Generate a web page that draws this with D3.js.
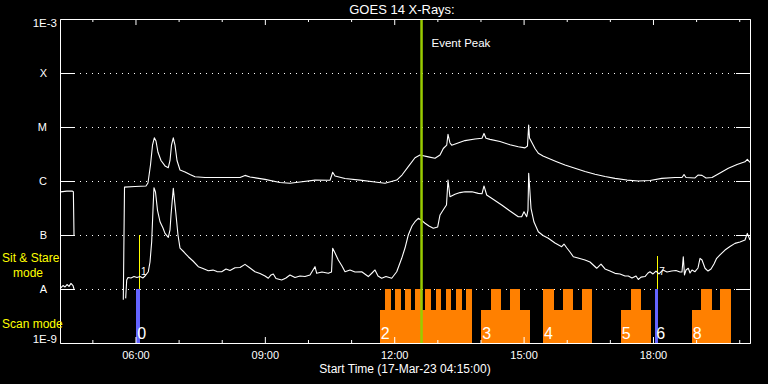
<!DOCTYPE html>
<html><head><meta charset="utf-8">
<script src="https://cdn.jsdelivr.net/npm/d3@7"></script>
<style>
html,body{margin:0;padding:0;background:#000;}
svg{display:block;}
text{font-family:"Liberation Sans",Arial,sans-serif;}
</style></head>
<body>
<svg id="c" width="768" height="384"></svg>
<script>
// ---------------- DATA ----------------
const title = "GOES 14 X-Rays:";
const startLabel = "Start Time (17-Mar-23 04:15:00)";
const timeDomain = [4.25, 20.25]; // hours of day, 04:15 .. 20:15
const hourTicks = d3.range(5, 21);
const labelHours = [6, 9, 12, 15, 18];
const classLevels = [1e-8, 1e-7, 1e-6, 1e-5, 1e-4];
const classLabels = ["A", "B", "C", "M", "X"];
const edgeLabels = ["1E-9", "1E-3"];

// long channel (1-8 A): [hour, flux]
const longChannel = [
 [4.26,6.3e-7],[4.41,6.5e-7],[4.53,6.5e-7],[4.56,6.3e-7],[4.575,1.0e-7],[5.0,null],
 [5.718,6.3e-9],[5.746,7.7e-7],[5.989,7.9e-7],[6.244,8.1e-7],[6.29,9.2e-7],[6.349,2.0e-6],
 [6.395,4.6e-6],[6.437,6.3e-6],[6.476,5.5e-6],[6.522,3.4e-6],[6.592,2.4e-6],[6.685,1.9e-6],
 [6.761,1.76e-6],[6.801,2.4e-6],[6.835,4.6e-6],[6.877,6.3e-6],[6.917,4.6e-6],[6.963,2.4e-6],
 [7.033,1.6e-6],[7.149,1.47e-6],[7.265,1.32e-6],[7.38,1.2e-6],[7.612,1.16e-6],[7.96,1.16e-6],
 [8.424,1.16e-6],[8.54,1.27e-6],[8.656,1.19e-6],[9.004,1.07e-6],[9.351,9.4e-7],[9.583,9.1e-7],
 [9.815,9.6e-7],[10.163,1.04e-6],[10.511,1.03e-6],[10.573,1.45e-6],[10.627,1.24e-6],[10.859,1.11e-6],
 [11.206,1.04e-6],[11.554,9.6e-7],[11.786,9.1e-7],[12.058,1.04e-6],[12.18,1.29e-6],[12.326,1.84e-6],
 [12.482,2.7e-6],[12.598,3.03e-6],[12.79,2.8e-6],[12.946,2.63e-6],[13.062,3.03e-6],[13.138,4.0e-6],
 [13.217,4.6e-6],[13.247,7.3e-6],[13.293,5.06e-6],[13.333,4.6e-6],[13.479,5.06e-6],[13.641,5.6e-6],
 [13.873,6.0e-6],[14.035,6.2e-6],[14.082,7.6e-6],[14.128,6.2e-6],[14.221,5.9e-6],[14.453,5.4e-6],
 [14.685,4.7e-6],[14.877,4.3e-6],[15.033,4.1e-6],[15.09,4.45e-6],[15.118,1.09e-5],[15.137,6.25e-6],
 [15.265,4.0e-6],[15.341,3.26e-6],[15.45,2.9e-6],[15.573,2.63e-6],[15.752,2.3e-6],[15.96,1.98e-6],
 [16.192,1.72e-6],[16.424,1.5e-6],[16.656,1.33e-6],[16.888,1.21e-6],[17.12,1.12e-6],[17.398,1.04e-6],
 [17.66,1.0e-6],[17.931,1.02e-6],[18.203,1.12e-6],[18.511,1.16e-6],[18.673,1.16e-6],[18.72,1.32e-6],
 [18.766,1.16e-6],[18.975,1.14e-6],[19.044,1.29e-6],[19.137,1.27e-6],[19.23,1.14e-6],[19.369,1.16e-6],
 [19.555,1.41e-6],[19.747,1.72e-6],[19.949,2.02e-6],[20.134,2.27e-6],[20.188,2.52e-6],[20.25,2.22e-6]
];

// short channel (0.5-4 A): [hour, flux]
const shortChannel = [
 [4.26,1.04e-8],[4.32,1.16e-8],[4.366,1.09e-8],[4.412,1.21e-8],[4.459,1.12e-8],[4.505,1.27e-8],
 [4.551,1.16e-8],[4.575,1.0e-8],[5.0,null],
 [5.773,6.7e-9],[5.797,1.47e-8],[5.827,1.63e-8],[5.896,1.6e-8],[5.966,1.7e-8],[6.035,1.63e-8],
 [6.105,1.7e-8],[6.175,1.6e-8],[6.221,1.74e-8],[6.298,2.09e-8],[6.337,3.16e-8],[6.376,7.5e-8],
 [6.406,2.9e-7],[6.429,7.5e-7],[6.464,6.25e-7],[6.51,2.9e-7],[6.569,1.76e-7],[6.638,1.35e-7],
 [6.685,1.07e-7],[6.761,9.06e-8],[6.801,1.24e-7],[6.824,2.35e-7],[6.877,7.3e-7],[6.933,2.7e-7],
 [6.986,1.0e-7],[7.033,5.7e-8],[7.125,4.84e-8],[7.225,3.96e-8],[7.334,3.3e-8],[7.457,2.59e-8],
 [7.566,2.4e-8],[7.689,2.18e-8],[7.798,2.24e-8],[7.89,2.1e-8],[7.999,2.09e-8],[8.099,2.35e-8],
 [8.192,2.2e-8],[8.308,2.48e-8],[8.424,2.5e-8],[8.54,2.86e-8],[8.656,2.45e-8],[8.772,2.09e-8],
 [8.888,1.94e-8],[9.004,1.74e-8],[9.08,1.58e-8],[9.143,1.82e-8],[9.196,1.9e-8],[9.259,1.57e-8],
 [9.391,1.47e-8],[9.49,1.6e-8],[9.583,1.82e-8],[9.699,1.63e-8],[9.815,1.74e-8],[9.931,1.7e-8],
 [10.047,1.82e-8],[10.163,2.59e-8],[10.203,1.95e-8],[10.325,2.07e-8],[10.471,1.95e-8],[10.546,2.07e-8],
 [10.573,5.7e-8],[10.627,4.64e-8],[10.703,3.44e-8],[10.789,2.67e-8],[10.859,2.09e-8],[10.975,2.25e-8],
 [11.091,2.07e-8],[11.246,2.09e-8],[11.399,1.7e-8],[11.485,1.98e-8],[11.554,2.25e-8],[11.624,1.74e-8],
 [11.709,1.58e-8],[11.809,1.7e-8],[11.942,1.58e-8],[12.058,2.09e-8],[12.174,3.7e-8],[12.25,5.74e-8],
 [12.326,1.0e-7],[12.412,1.47e-7],[12.482,1.76e-7],[12.558,2.04e-7],[12.621,1.9e-7],[12.714,1.65e-7],
 [12.806,1.47e-7],[12.906,1.33e-7],[13.008,1.41e-7],[13.062,2.35e-7],[13.161,3.12e-7],[13.212,3.6e-7],
 [13.247,1.04e-6],[13.293,5.12e-7],[13.409,5.67e-7],[13.525,6.1e-7],[13.641,6.34e-7],[13.803,6.3e-7],
 [13.95,5.9e-7],[14.035,5.8e-7],[14.082,8.1e-7],[14.144,5.5e-7],[14.267,4.74e-7],[14.492,3.6e-7],
 [14.685,2.78e-7],[14.877,2.18e-7],[14.956,2.18e-7],[15.009,2.7e-7],[15.072,2.18e-7],[15.102,2.9e-7],
 [15.118,1.39e-6],[15.172,3.12e-7],[15.241,1.74e-7],[15.341,1.15e-7],[15.45,9.8e-8],[15.573,8.7e-8],
 [15.728,7.1e-8],[15.883,6.07e-8],[15.937,6.8e-8],[15.999,5.8e-8],[16.076,4.84e-8],[16.153,3.96e-8],
 [16.262,3.75e-8],[16.424,3.44e-8],[16.54,3.16e-8],[16.695,2.42e-8],[16.795,2.9e-8],[16.888,2.35e-8],
 [17.004,2.15e-8],[17.12,1.95e-8],[17.236,1.9e-8],[17.352,1.74e-8],[17.428,1.74e-8],[17.514,1.6e-8],
 [17.607,1.74e-8],[17.66,1.5e-8],[17.723,1.66e-8],[17.815,1.7e-8],[17.885,1.98e-8],[17.931,2.09e-8],
 [18.0,1.9e-8],[18.07,2.15e-8],[18.139,1.9e-8],[18.232,2.25e-8],[18.325,2.07e-8],[18.433,2.15e-8],
 [18.533,2.2e-8],[18.626,2.07e-8],[18.673,2.07e-8],[18.703,3.96e-8],[18.731,1.82e-8],[18.766,2.25e-8],
 [18.819,2.42e-8],[18.859,1.98e-8],[18.905,2.25e-8],[18.975,2.09e-8],[19.044,2.45e-8],[19.091,3.7e-8],
 [19.137,3.44e-8],[19.207,2.42e-8],[19.276,2.15e-8],[19.346,2.35e-8],[19.415,2.9e-8],[19.477,3.7e-8],
 [19.554,4.27e-8],[19.67,5.27e-8],[19.786,6.12e-8],[19.902,7.0e-8],[20.018,7.4e-8],[20.134,8.07e-8],
 [20.188,1.07e-7],[20.25,8.07e-8]
];

// Observation mode intervals (HH:MM)
const lowModeIntervals = [["11:40","13:48"],["14:01","15:09"],["15:27","16:35"],["17:15","17:57"],["18:54","19:49"]];
const highModeIntervals = [["11:47","11:55"],["12:01","12:09"],["12:15","12:23"],["12:29","12:37"],["12:43","12:51"],
 ["12:58","13:05"],["13:12","13:19"],["13:26","13:34"],["13:40","13:48"],["14:15","14:28"],["14:41","14:55"],
 ["15:27","15:42"],["15:55","16:09"],["16:21","16:35"],["17:29","17:44"],["19:07","19:22"],["19:33","19:49"]];
const otherIntervals = [["06:01","06:06"],["18:03","18:07"]];
const orbitLabels = [["06:01","0"],["11:40","2"],["14:01","3"],["15:27","4"],["17:15","5"],["18:03","6"],["18:54","8"]];
const markerTimes = ["06:05","18:06"];
const markerTops = [1e-7, 4.1e-8];
const markerLabels = ["1","7"];
const eventPeak = "12:38";

// ---------------- DRAW ----------------
const hm = s => { const [h,m] = s.split(":").map(Number); return h + m/60; };
const svg = d3.select("#c");
svg.append("rect").attr("width",768).attr("height",384).attr("fill","#000");

const x = d3.scaleLinear().domain(timeDomain).range([60, 750]);
const y = d3.scaleLog().domain([1e-9, 1e-3]).range([343, 19]);
const lowTop = 10 ** -8.39, highTop = 1e-8;

// dotted grid
svg.append("g").selectAll("line").data(classLevels).join("line")
  .attr("x1", 74).attr("x2", 736)
  .attr("y1", d => Math.round(y(d)) + 0.5).attr("y2", d => Math.round(y(d)) + 0.5)
  .attr("stroke", "#fff").attr("stroke-width", 1).attr("stroke-dasharray", "1 5")
  .attr("shape-rendering", "crispEdges");

// mode bars
const bars = svg.append("g").attr("shape-rendering","crispEdges");
bars.selectAll(".lo").data(lowModeIntervals).join("rect")
  .attr("x", d => x(hm(d[0]))).attr("width", d => x(hm(d[1])) - x(hm(d[0])))
  .attr("y", y(lowTop)).attr("height", y(1e-9) - y(lowTop)).attr("fill", "#ff8000");
bars.selectAll(".hi").data(highModeIntervals).join("rect")
  .attr("x", d => x(hm(d[0]))).attr("width", d => x(hm(d[1])) - x(hm(d[0])))
  .attr("y", y(highTop)).attr("height", y(1e-9) - y(highTop)).attr("fill", "#ff8000");
bars.selectAll(".ot").data(otherIntervals).join("rect")
  .attr("x", d => x(hm(d[0]))).attr("width", d => x(hm(d[1])) - x(hm(d[0])))
  .attr("y", y(highTop)).attr("height", y(1e-9) - y(highTop)).attr("fill", "#6464ff");

// markers (yellow)
svg.append("g").selectAll("line").data(markerTimes).join("line")
  .attr("x1", d => Math.round(x(hm(d))) + 0.5).attr("x2", d => Math.round(x(hm(d))) + 0.5)
  .attr("y1", (d,i) => y(markerTops[i])).attr("y2", y(highTop))
  .attr("stroke", "#ffff00").attr("stroke-width", 1).attr("shape-rendering","crispEdges");
svg.append("g").selectAll("text").data(markerTimes).join("text")
  .attr("x", d => x(hm(d)) + 2).attr("y", 275)
  .attr("fill", "#fff").attr("font-size", 10).text((d,i) => markerLabels[i]);

// curves
const line = d3.line().defined(d => d[1] != null).x(d => x(d[0])).y(d => y(d[1]));
[longChannel, shortChannel].forEach(s => {
  svg.append("path").datum(s).attr("d", line)
    .attr("fill", "none").attr("stroke", "#fff").attr("stroke-width", 1.1)
    .attr("stroke-linejoin","round");
});

// event peak
svg.append("line").attr("x1", x(hm(eventPeak))).attr("x2", x(hm(eventPeak)))
  .attr("y1", 19).attr("y2", 343).attr("stroke", "#99cc00").attr("stroke-width", 2.5);
svg.append("text").attr("x", x(hm(eventPeak)) + 10).attr("y", 47)
  .attr("fill", "#fff").attr("font-size", 11.5).text("Event Peak");

// orbit labels
svg.append("g").selectAll("text").data(orbitLabels).join("text")
  .attr("x", d => x(hm(d[0])) + 1).attr("y", 339)
  .attr("fill", "#fff").attr("font-size", 16).text(d => d[1]);

// axes
function styleAxis(g){
  g.attr("color","#fff").attr("font-family","Liberation Sans, Arial, sans-serif").attr("font-size", 11);
  g.selectAll("text").attr("fill","#fff");
}
const minorHours = hourTicks.filter(h => !labelHours.includes(h));
const fmt = h => String(h).padStart(2,"0") + ":00";
svg.append("g").attr("transform","translate(0,343)")
  .call(d3.axisBottom(x).tickValues(labelHours).tickSize(-6).tickSizeOuter(0).tickPadding(8).tickFormat(fmt))
  .call(styleAxis);
svg.append("g").attr("transform","translate(0,343)")
  .call(d3.axisBottom(x).tickValues(minorHours).tickSize(-3).tickSizeOuter(0).tickFormat(""))
  .call(styleAxis);
svg.append("g").attr("transform","translate(0,19)")
  .call(d3.axisTop(x).tickValues(labelHours).tickSize(-6).tickSizeOuter(0).tickFormat(""))
  .call(styleAxis);
svg.append("g").attr("transform","translate(0,19)")
  .call(d3.axisTop(x).tickValues(minorHours).tickSize(-3).tickSizeOuter(0).tickFormat(""))
  .call(styleAxis);
svg.append("g").attr("transform","translate(60,0)")
  .call(d3.axisLeft(y).tickValues(classLevels).tickSize(-14).tickSizeOuter(0).tickPadding(13)
        .tickFormat((d,i) => classLabels[i]))
  .call(styleAxis);
svg.append("g").attr("transform","translate(750,0)")
  .call(d3.axisRight(y).tickValues(classLevels).tickSize(-14).tickSizeOuter(0).tickFormat(""))
  .call(styleAxis);

// edge exponent labels
svg.append("text").attr("x", 57).attr("y", 343).attr("text-anchor","end")
  .attr("fill","#fff").attr("font-size", 11.5).text(edgeLabels[0]);
svg.append("text").attr("x", 57).attr("y", 27).attr("text-anchor","end")
  .attr("fill","#fff").attr("font-size", 11.5).text(edgeLabels[1]);

// mode labels
svg.append("text").attr("x", 2).attr("y", 262).attr("fill","#ffff00").attr("font-size", 12).text("Sit & Stare");
svg.append("text").attr("x", 13).attr("y", 277).attr("fill","#ffff00").attr("font-size", 12).text("mode");
svg.append("text").attr("x", 2).attr("y", 328).attr("fill","#ffff00").attr("font-size", 12).text("Scan mode");

// title & x label
svg.append("text").attr("x", 402).attr("y", 14).attr("text-anchor","middle")
  .attr("fill","#fff").attr("font-size", 13).text(title);
svg.append("text").attr("x", 405).attr("y", 372.5).attr("text-anchor","middle")
  .attr("fill","#fff").attr("font-size", 12).text(startLabel);
</script>
</body></html>
